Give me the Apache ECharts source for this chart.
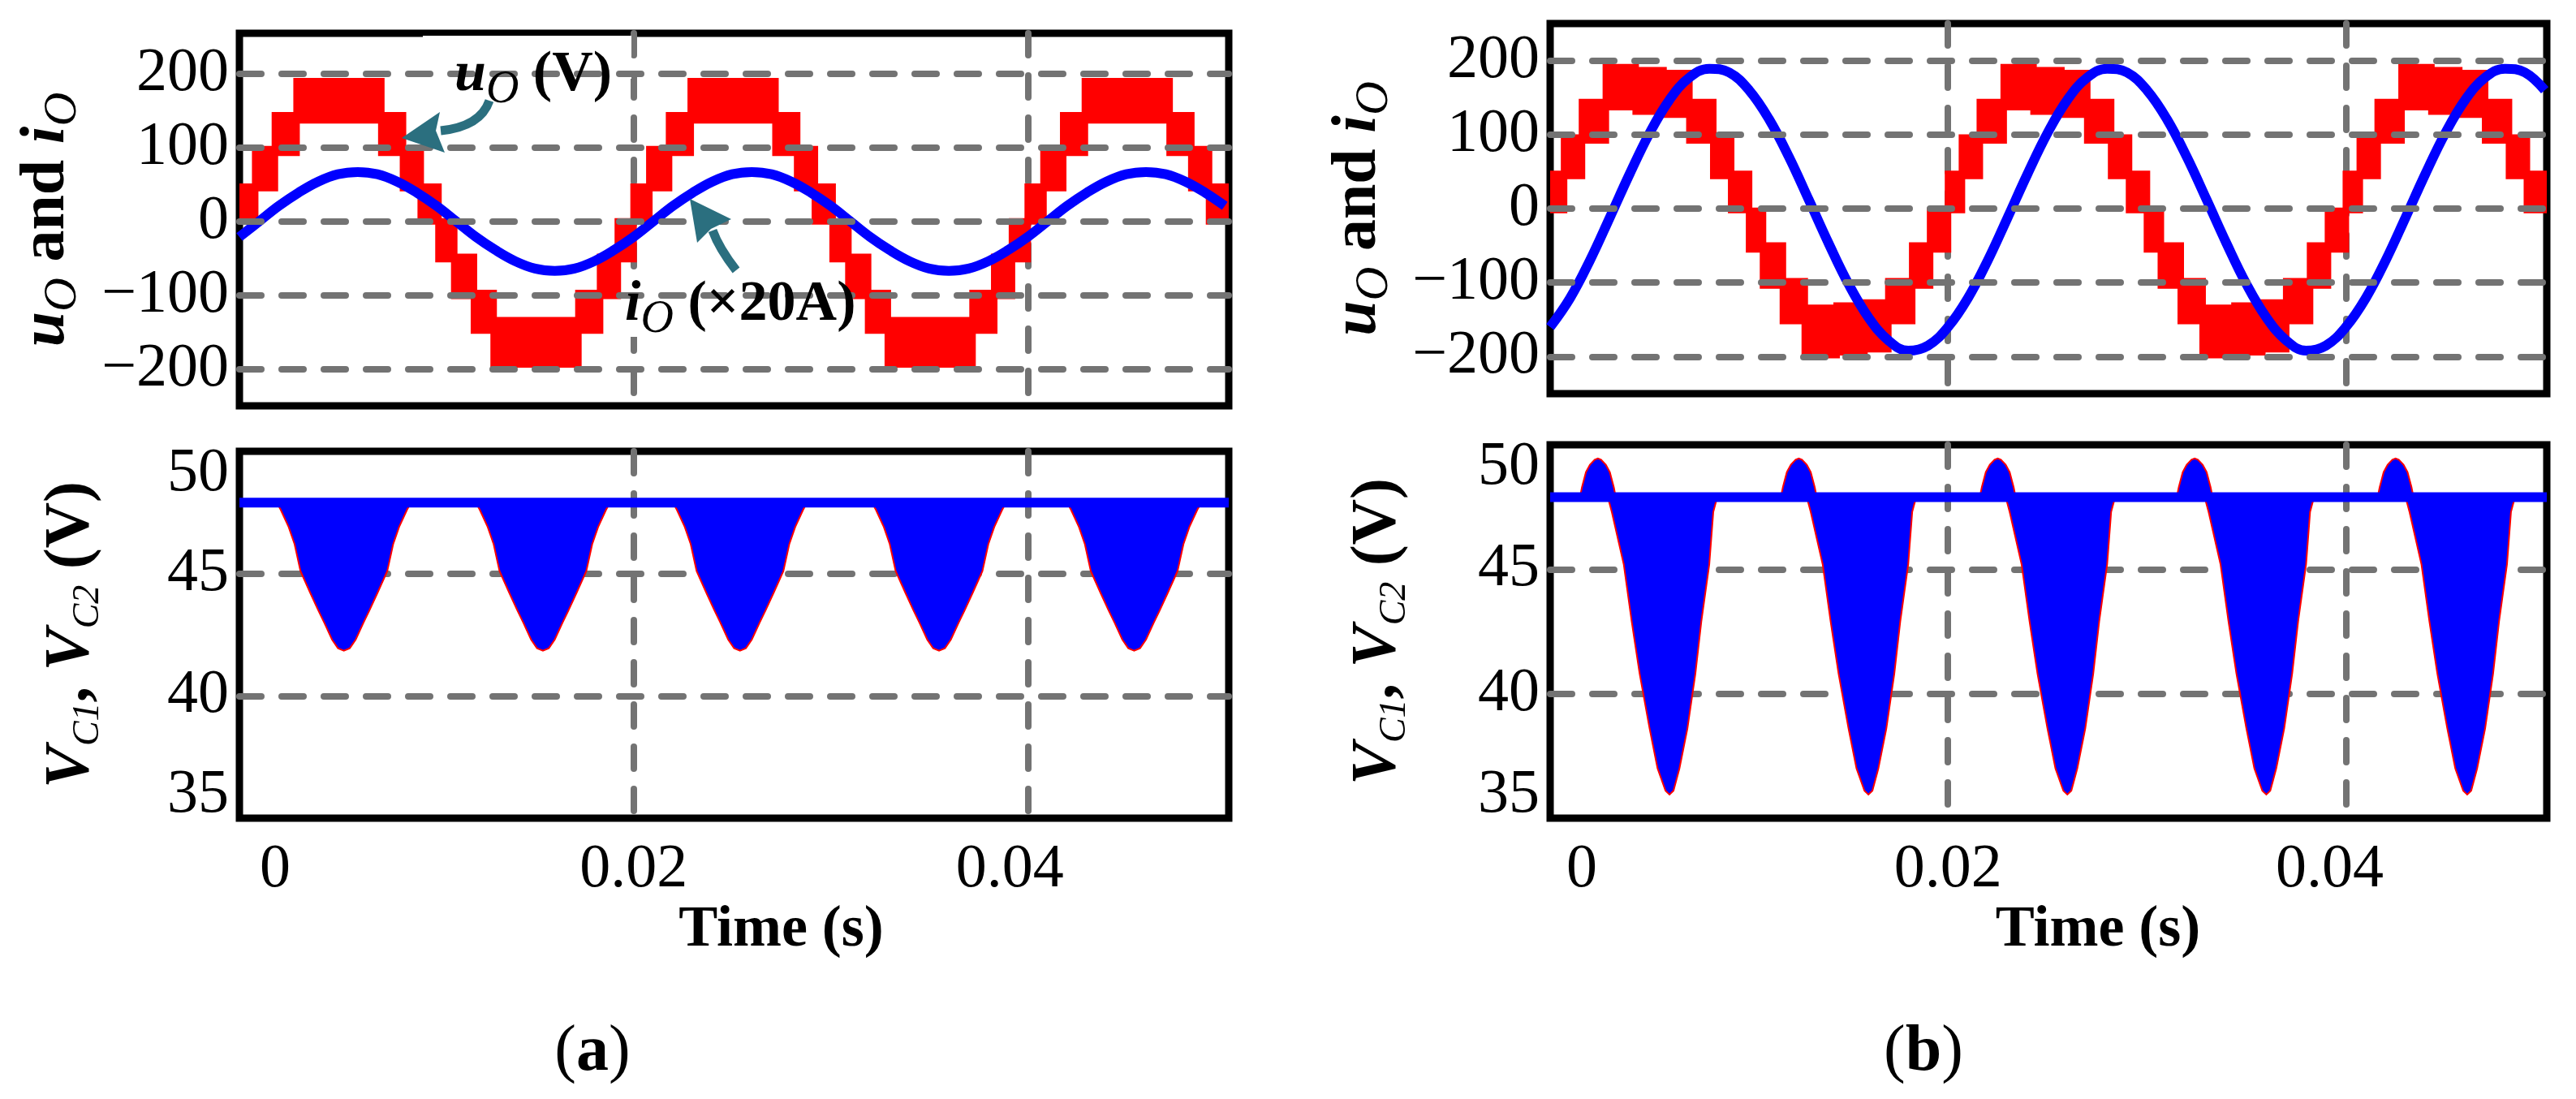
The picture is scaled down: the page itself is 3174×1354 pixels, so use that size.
<!DOCTYPE html>
<html>
<head>
<meta charset="utf-8">
<script src="https://cdn.jsdelivr.net/npm/echarts@6.0.0/dist/echarts.min.js"></script>
<style>
  html, body { margin: 0; padding: 0; background: #fff; }
  #main { width: 3174px; height: 1354px; }
</style>
</head>
<body>
<div id="main"></div>
<script>
var FONT = 'Liberation Serif';
var RED = '#ff0000', BLUE = '#0000ff', GRAY = '#737373', TEAL = '#2b6f7f';

// ---------- (a) ----------
// staircase of u_O: segment edges (s) and the band each segment switches inside (V)
var uEdgesA = [0, 0.0008, 0.0018, 0.0029, 0.0072, 0.0083, 0.0092, 0.0101, 0.0109, 0.0119, 0.0129, 0.0172, 0.0183, 0.0192,
  0.0200, 0.0208, 0.0218, 0.0229, 0.0272, 0.0283, 0.0292, 0.0301, 0.0309, 0.0319, 0.0329, 0.0372, 0.0383, 0.0392,
  0.0400, 0.0408, 0.0418, 0.0429, 0.0472, 0.0483, 0.0492, 0.0502];
var uLoA = [0, 45, 93, 137, 93, 45, 0, -51, -101, -148, -194, -148, -101, -51,
  0, 45, 93, 137, 93, 45, 0, -51, -101, -148, -194, -148, -101, -51,
  0, 45, 93, 137, 93, 45, 0];
var uHiA = [47, 98, 144, 190, 144, 98, 47, 0, -48, -97, -134, -97, -48, 0,
  47, 98, 144, 190, 144, 98, 47, 0, -48, -97, -134, -97, -48, 0,
  47, 98, 144, 190, 144, 98, 47];

var iTimes = [0, 0.001, 0.002, 0.003, 0.004, 0.005, 0.006, 0.007, 0.008, 0.009,
  0.010, 0.011, 0.012, 0.013, 0.014, 0.015, 0.016, 0.017, 0.018, 0.019,
  0.020, 0.021, 0.022, 0.023, 0.024, 0.025, 0.026, 0.027, 0.028, 0.029,
  0.030, 0.031, 0.032, 0.033, 0.034, 0.035, 0.036, 0.037, 0.038, 0.039,
  0.040, 0.041, 0.042, 0.043, 0.044, 0.045, 0.046, 0.047, 0.048, 0.049, 0.050];
// i_O (x20 A)
var iA = [-21, 0, 21, 39, 54, 64, 67, 64, 54, 39,
  21, 0, -21, -39, -54, -64, -67, -64, -54, -39,
  -21, 0, 21, 39, 54, 64, 67, 64, 54, 39,
  21, 0, -21, -39, -54, -64, -67, -64, -54, -39,
  -21, 0, 21, 39, 54, 64, 67, 64, 54, 39, 21];

// capacitor voltages: flat level and ripple dips
var vBaseA = 47.9;
var dipCentersA = [0.0053, 0.0154, 0.0254, 0.0355, 0.0454];
var dipProfileA = [[-0.0034, 47.9], [-0.0032, 47.6], [-0.0028, 46.9], [-0.0025, 46.2], [-0.0022, 45.1],
  [-0.0017, 44.2], [-0.0013, 43.5], [-0.0010, 43.0], [-0.0006, 42.3], [-0.0003, 41.95], [0, 41.85],
  [0.0003, 41.95], [0.0006, 42.3], [0.0010, 43.0], [0.0013, 43.5], [0.0017, 44.2], [0.0022, 45.1],
  [0.0025, 46.2], [0.0028, 46.9], [0.0032, 47.6], [0.0034, 47.9]];

// ---------- (b) ----------
var uEdgesB = [0, 0.0007, 0.0016, 0.0028, 0.0043, 0.0057, 0.0070, 0.0082, 0.0091, 0.0100, 0.0107, 0.0117, 0.0128, 0.0144, 0.0158, 0.0170, 0.0182, 0.0191,
  0.0200, 0.0207, 0.0216, 0.0228, 0.0243, 0.0257, 0.0270, 0.0282, 0.0291, 0.0300, 0.0307, 0.0317, 0.0328, 0.0344, 0.0358, 0.0370, 0.0382, 0.0391,
  0.0400, 0.0407, 0.0416, 0.0428, 0.0443, 0.0457, 0.0470, 0.0482, 0.0491, 0.0501];
var uLoB = [-2, 44, 92, 137, 131, 127, 92, 44, -2, -55, -104, -152, -198, -194, -190, -152, -104, -55,
  -2, 44, 92, 137, 131, 127, 92, 44, -2, -55, -104, -152, -198, -194, -190, -152, -104, -55,
  -2, 44, 92, 137, 131, 127, 92, 44, -2];
var uHiB = [47, 96, 144, 191, 187, 183, 144, 96, 47, -3, -50, -98, -134, -131, -127, -98, -50, -3,
  47, 96, 144, 191, 187, 183, 144, 96, 47, -3, -50, -98, -134, -131, -127, -98, -50, -3,
  47, 96, 144, 191, 187, 183, 144, 96, 47];
var iB = [-160, -121, -70, -12, 47, 102, 147, 177, 189, 184,
  160, 121, 70, 12, -47, -102, -147, -178, -192, -185,
  -160, -121, -70, -12, 47, 102, 147, 177, 189, 184,
  160, 121, 70, 12, -47, -102, -147, -178, -192, -185,
  -160, -121, -70, -12, 47, 102, 147, 177, 189, 184, 160];

var vBaseB = 47.9;
var dipCentersB = [0.0060, 0.0160, 0.0260, 0.0360, 0.0461];
var dipProfileB = [[-0.0031, 47.9], [-0.0029, 47.3], [-0.0023, 45.2], [-0.0019, 42.9], [-0.0015, 40.8],
  [-0.0010, 38.6], [-0.0006, 37.0], [-0.0002, 36.1], [0, 35.95], [0.0002, 36.1], [0.0005, 37.0],
  [0.0009, 38.6], [0.0013, 40.8], [0.0016, 42.9], [0.0020, 45.2], [0.0022, 47.3], [0.0024, 47.9]];
var bumpCentersB = [0.0024, 0.0125, 0.0225, 0.0324, 0.0425];
var bumpProfileB = [[-0.0009, 47.9], [-0.0008, 48.3], [-0.0006, 48.9], [-0.0004, 49.2], [-0.00016, 49.4],
  [0, 49.45], [0.00016, 49.4], [0.0004, 49.2], [0.0006, 48.9], [0.0008, 48.3], [0.0009, 47.9]];

var uTicks = [-200, -100, 0, 100, 200];

// ---------- helpers ----------
function bands(edges, lo, hi) {
  var out = [];
  for (var k = 0; k < lo.length; k++) out.push([edges[k], edges[k + 1], lo[k], hi[k]]);
  return out;
}
function pairs(xs, ys) {
  return xs.map(function (x, k) { return [x, ys[k]]; });
}
function renderBand(params, api) {
  var p0 = api.coord([api.value(0), api.value(3)]);
  var p1 = api.coord([api.value(1), api.value(2)]);
  return {
    type: 'rect',
    shape: { x: p0[0], y: p0[1], width: p1[0] - p0[0], height: p1[1] - p0[1] },
    style: { fill: RED, stroke: RED, lineWidth: 8, lineJoin: 'miter' }
  };
}
function shapeRenderer(profile) {
  return function (params, api) {
    var c = api.value(0);
    var pts = profile.map(function (p) { return api.coord([c + p[0], p[1]]); });
    return { type: 'polygon', shape: { points: pts }, style: { fill: BLUE, stroke: RED, lineWidth: 2 } };
  };
}

var dashStyle = { color: GRAY, width: 8, type: [27, 25], cap: 'round' };
var tickFont = { fontFamily: FONT, fontSize: 76, color: '#000' };

function xAxisCfg(grid, max, labels, zeroPad, lastPad) {
  var cfg = {
    gridIndex: grid, type: 'value', min: 0, max: max, interval: 0.02,
    axisLine: { show: false }, axisTick: { show: false },
    splitLine: { show: true, showMinLine: false, showMaxLine: false, lineStyle: dashStyle },
    axisLabel: { show: false }
  };
  if (labels) {
    cfg.axisLabel = {
      show: true, margin: 26, fontFamily: FONT, fontSize: 76, color: '#000',
      formatter: function (v) {
        if (Math.abs(v) < 1e-9) return '{z|0}';
        if (Math.abs(v - 0.02) < 1e-9) return '{n|0.02}';
        if (Math.abs(v - 0.04) < 1e-9) return '{f|0.04}';
        return '';
      },
      rich: {
        z: Object.assign({ padding: [0, 0, 0, zeroPad] }, tickFont),
        n: Object.assign({}, tickFont),
        f: Object.assign({ padding: [0, lastPad, 0, 0] }, tickFont)
      }
    };
    cfg.name = 'Time (s)';
    cfg.nameLocation = 'middle';
    cfg.nameGap = 102;
    cfg.nameTextStyle = { fontFamily: FONT, fontSize: 72, fontWeight: 'bold', color: '#000', padding: [0, 0, 0, 2 * labels] };
  }
  return cfg;
}

var richU = {
  bi: { fontFamily: FONT, fontSize: 78, fontWeight: 'bold', fontStyle: 'italic', color: '#000', padding: [0, 0, 10, 0], verticalAlign: 'bottom' },
  b: { fontFamily: FONT, fontSize: 78, fontWeight: 'bold', color: '#000', padding: [0, 0, 10, 0], verticalAlign: 'bottom' },
  sub: { fontFamily: FONT, fontSize: 58, fontStyle: 'italic', color: '#000', verticalAlign: 'bottom' }
};
var richV = {
  bi: { fontFamily: FONT, fontSize: 78, fontWeight: 'bold', fontStyle: 'italic', color: '#000', padding: [0, 0, 5, 0], verticalAlign: 'bottom' },
  b: { fontFamily: FONT, fontSize: 78, fontWeight: 'bold', color: '#000', padding: [0, 0, 5, 0], verticalAlign: 'bottom' },
  sub: { fontFamily: FONT, fontSize: 46, fontStyle: 'italic', color: '#000', verticalAlign: 'bottom' }
};
var richAnn = {
  bi: { fontFamily: FONT, fontSize: 70, fontWeight: 'bold', fontStyle: 'italic', color: '#000', padding: [0, 0, 11, 0], verticalAlign: 'bottom' },
  b: { fontFamily: FONT, fontSize: 70, fontWeight: 'bold', color: '#000', padding: [0, 0, 11, 0], verticalAlign: 'bottom' },
  sub: { fontFamily: FONT, fontSize: 56, fontStyle: 'italic', color: '#000', verticalAlign: 'bottom' }
};

function yTopCfg(grid, max, gap) {
  return {
    gridIndex: grid, type: 'value', min: -250, max: max, interval: 50,
    axisLine: { show: false }, axisTick: { show: false }, splitLine: { show: false },
    axisLabel: {
      margin: 13, fontFamily: FONT, fontSize: 76, color: '#000',
      formatter: function (v) {
        if (uTicks.indexOf(v) < 0) return '';
        return v < 0 ? '\u2212' + (-v) : String(v);
      }
    },
    name: '{bi|u}{sub|O}{b| and }{bi|i}{sub|O}',
    nameLocation: 'middle', nameRotate: 90, nameGap: gap,
    nameTextStyle: { fontFamily: FONT, fontSize: 78, color: '#000', rich: richU }
  };
}
function yBotCfg(grid, gap) {
  return {
    gridIndex: grid, type: 'value', min: 35, max: 50, interval: 5,
    axisLine: { show: false }, axisTick: { show: false },
    splitLine: { show: true, showMinLine: false, showMaxLine: false, lineStyle: dashStyle },
    axisLabel: {
      margin: 13, fontFamily: FONT, fontSize: 76, color: '#000', lineHeight: 56,
      verticalAlignMinLabel: 'bottom', verticalAlignMaxLabel: 'top'
    },
    name: '{bi|V}{sub|C1}{b|, }{bi|V}{sub|C2}{b| (V)}',
    nameLocation: 'middle', nameRotate: 90, nameGap: gap,
    nameTextStyle: { fontFamily: FONT, fontSize: 78, color: '#000', rich: richV }
  };
}

function gridLines(axis) {
  return {
    type: 'line', xAxisIndex: axis, yAxisIndex: axis, data: [], z: 1, silent: true,
    markLine: {
      silent: true, symbol: ['none', 'none'], label: { show: false },
      lineStyle: dashStyle,
      data: uTicks.map(function (v) { return { yAxis: v }; })
    }
  };
}
function redSeries(axis, edges, lo, hi) {
  return {
    type: 'custom', xAxisIndex: axis, yAxisIndex: axis, z: 2, clip: true,
    encode: { x: [0, 1], y: [2, 3] },
    renderItem: renderBand, data: bands(edges, lo, hi)
  };
}
function blueLine(axis, data, width) {
  return {
    type: 'line', xAxisIndex: axis, yAxisIndex: axis, z: 4, smooth: 0.4, showSymbol: false,
    lineStyle: { color: BLUE, width: width }, data: data
  };
}
function rippleSeries(axis, centers, base, profile) {
  return {
    type: 'custom', xAxisIndex: axis, yAxisIndex: axis, z: 2, clip: true,
    encode: { x: 0, y: 1 },
    renderItem: shapeRenderer(profile),
    data: centers.map(function (c) { return [c, base]; })
  };
}

var chart = echarts.init(document.getElementById('main'), null, { renderer: 'canvas' });

var gridStyle = { show: true, borderColor: '#000', borderWidth: 9, backgroundColor: 'transparent' };

chart.setOption({
  animation: false,
  backgroundColor: '#fff',
  textStyle: { fontFamily: FONT, color: '#000' },
  grid: [
    Object.assign({ left: 295, top: 41, width: 1219, height: 459 }, gridStyle),
    Object.assign({ left: 295, top: 556, width: 1219, height: 452 }, gridStyle),
    Object.assign({ left: 1910, top: 29, width: 1228, height: 456 }, gridStyle),
    Object.assign({ left: 1910, top: 548, width: 1228, height: 460 }, gridStyle)
  ],
  xAxis: [
    xAxisCfg(0, 0.0502, 0),
    xAxisCfg(1, 0.0502, 58, 88, 44),
    xAxisCfg(2, 0.0501, 0),
    xAxisCfg(3, 0.0501, 61, 78, 40)
  ],
  yAxis: [
    yTopCfg(0, 255, 188),
    yBotCfg(1, 163),
    yTopCfg(2, 250, 187),
    yBotCfg(3, 168)
  ],
  series: [
    gridLines(0),
    gridLines(2),
    redSeries(0, uEdgesA, uLoA, uHiA),
    blueLine(0, pairs(iTimes, iA), 12),
    redSeries(2, uEdgesB, uLoB, uHiB),
    blueLine(2, pairs(iTimes, iB), 12),
    rippleSeries(1, dipCentersA, vBaseA, dipProfileA),
    blueLine(1, [[0, vBaseA], [0.0502, vBaseA]], 12),
    rippleSeries(3, dipCentersB, vBaseB, dipProfileB),
    rippleSeries(3, bumpCentersB, vBaseB, bumpProfileB),
    blueLine(3, [[0, vBaseB], [0.0501, vBaseB]], 12)
  ],
  graphic: [
    // white boxes behind the annotations
    { type: 'rect', z: 1.5, shape: { x: 521, y: 44, width: 257, height: 53 }, style: { fill: '#fff' } },
    { type: 'rect', z: 1.5, shape: { x: 768, y: 340, width: 282, height: 75 }, style: { fill: '#fff' } },
    // annotation texts
    { type: 'text', z: 10, x: 560, y: 139,
      style: { text: '{bi|u}{sub|O}{b| (V)}', rich: richAnn, align: 'left', verticalAlign: 'bottom' } },
    { type: 'text', z: 10, x: 770, y: 422,
      style: { text: '{bi|i}{sub|O}{b| (\u00d720A)}', rich: richAnn, align: 'left', verticalAlign: 'bottom' } },
    // arrows
    { type: 'bezierCurve', z: 10, shape: { x1: 603, y1: 124, cpx1: 592, cpy1: 156, x2: 543, y2: 161 },
      style: { stroke: TEAL, lineWidth: 11, fill: null } },
    { type: 'polygon', z: 10, shape: { points: [[495, 170], [542, 138], [537, 161], [548, 188]] },
      style: { fill: TEAL } },
    { type: 'bezierCurve', z: 10, shape: { x1: 907, y1: 333, cpx1: 886, cpy1: 306, x2: 878, y2: 284 },
      style: { stroke: TEAL, lineWidth: 11, fill: null } },
    { type: 'polygon', z: 10, shape: { points: [[850, 245], [901, 270], [876, 282], [859, 299]] },
      style: { fill: TEAL } },
    // panel captions
    { type: 'text', z: 10, x: 730, y: 1297,
      style: { text: '{p|(}{pb|a}{p|)}', align: 'center', verticalAlign: 'middle',
        rich: { p: { fontFamily: FONT, fontSize: 80, color: '#000' }, pb: { fontFamily: FONT, fontSize: 80, fontWeight: 'bold', color: '#000' } } } },
    { type: 'text', z: 10, x: 2370, y: 1297,
      style: { text: '{p|(}{pb|b}{p|)}', align: 'center', verticalAlign: 'middle',
        rich: { p: { fontFamily: FONT, fontSize: 80, color: '#000' }, pb: { fontFamily: FONT, fontSize: 80, fontWeight: 'bold', color: '#000' } } } }
  ]
});
</script>
</body>
</html>
